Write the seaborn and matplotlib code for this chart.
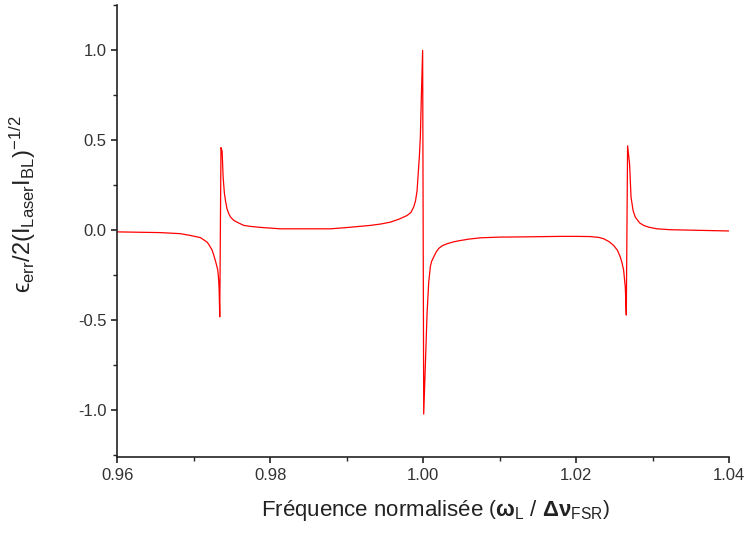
import numpy as np
import pandas as pd
import seaborn as sns
import matplotlib.pyplot as plt
from matplotlib.ticker import MultipleLocator

sns.set_theme(style="ticks")
plt.rcParams["font.family"] = ["Liberation Sans", "DejaVu Sans"]
plt.rcParams["mathtext.fontset"] = "custom"
plt.rcParams["mathtext.rm"] = "Liberation Sans"
plt.rcParams["mathtext.it"] = "Liberation Sans:italic"
plt.rcParams["mathtext.bf"] = "Liberation Sans:bold"

# Error signal (normalised frequency, normalised error)
freq_left = [0.9600, 0.96565, 0.96826, 0.96957, 0.97088, 0.97175, 0.97200,
             0.97241, 0.97260, 0.97284, 0.97300, 0.97314, 0.97325, 0.97332,
             0.97340, 0.97356, 0.97371, 0.97384, 0.97400, 0.97414, 0.97435,
             0.97458, 0.97480, 0.97523, 0.97570, 0.97654, 0.97750, 0.97900,
             0.98003, 0.98133]
err_left = [-0.008, -0.012, -0.018, -0.028, -0.040, -0.065, -0.080,
            -0.110, -0.135, -0.170, -0.195, -0.220, -0.270, -0.330,
            -0.480, 0.460, 0.440, 0.296, 0.210, 0.167, 0.120,
            0.093, 0.075, 0.056, 0.045, 0.028, 0.022, 0.016,
            0.013, 0.009]

freq_center = [0.98787, 0.99000, 0.99310, 0.99450, 0.99571, 0.99680, 0.99790,
               0.99840, 0.99876, 0.99900, 0.99920, 0.99950, 0.99963, 0.99976,
               0.99993, 1.00007, 1.00029, 1.00051, 1.00072, 1.00094, 1.00110,
               1.00137, 1.00170, 1.00203, 1.00250, 1.00312, 1.00400, 1.00486,
               1.00600, 1.00748, 1.01000]
err_center = [0.009, 0.016, 0.028, 0.036, 0.046, 0.062, 0.083,
              0.100, 0.130, 0.165, 0.220, 0.410, 0.520, 0.740,
              1.000, -1.020, -0.740, -0.460, -0.290, -0.200, -0.172,
              -0.148, -0.120, -0.100, -0.085, -0.074, -0.063, -0.056,
              -0.048, -0.041, -0.037]

freq_right = [1.01271, 1.01793, 1.02000, 1.02186, 1.02300, 1.02359, 1.02430,
              1.02490, 1.02540, 1.02578, 1.02600, 1.02621, 1.02630, 1.02643,
              1.02656, 1.02673, 1.02699, 1.02718, 1.02745, 1.02774, 1.02830,
              1.02882, 1.02950, 1.03058, 1.03231, 1.0400]
err_right = [-0.036, -0.033, -0.033, -0.034, -0.039, -0.046, -0.062,
             -0.083, -0.110, -0.148, -0.180, -0.220, -0.260, -0.315,
             -0.470, 0.470, 0.370, 0.185, 0.110, 0.074, 0.042,
             0.028, 0.018, 0.009, 0.004, -0.003]

df = pd.DataFrame({
    "freq": freq_left + freq_center + freq_right,
    "err": err_left + err_center + err_right,
})

fig = plt.figure(figsize=(7.47, 5.38), dpi=100)
ax = fig.add_axes([0.157, 0.150, 0.819, 0.840])

sns.lineplot(data=df, x="freq", y="err", color="#ff0000", lw=0.9,
             estimator=None, sort=False, ax=ax)

ax.set_xlim(0.96, 1.04)
ax.set_ylim(-1.26, 1.25)
ax.xaxis.set_major_locator(MultipleLocator(0.02))
ax.xaxis.set_minor_locator(MultipleLocator(0.01))
ax.yaxis.set_major_locator(MultipleLocator(0.5))
ax.yaxis.set_minor_locator(MultipleLocator(0.25))
ax.xaxis.set_major_formatter(plt.FormatStrFormatter("%.2f"))
ax.yaxis.set_major_formatter(plt.FormatStrFormatter("%.1f"))

ax.tick_params(which="major", length=4, width=1.2, labelsize=12,
               colors="#222222", labelcolor="#333333", direction="out")
ax.tick_params(which="minor", length=3, width=1.0, direction="out",
               colors="#222222")
for side in ["left", "bottom"]:
    ax.spines[side].set_linewidth(1.2)
    ax.spines[side].set_color("#222222")
sns.despine(ax=ax)

ax.set_xlabel(r"Fréquence normalisée $\left(\mathbf{\omega}_{\mathrm{L}}\ /\ \mathbf{\Delta\nu}_{\mathrm{FSR}}\right)$",
              fontsize=16, color="#222222")
ax.set_ylabel("$\\mathrm{\u03f5_{err}/2(I_{Laser}I_{BL})^{-1/2}}$",
              fontsize=17, color="#222222")
ax.xaxis.set_label_coords(0.52, -0.09)
ax.yaxis.set_label_coords(-0.13, 0.56)

fig.savefig("out.png", dpi=100)
